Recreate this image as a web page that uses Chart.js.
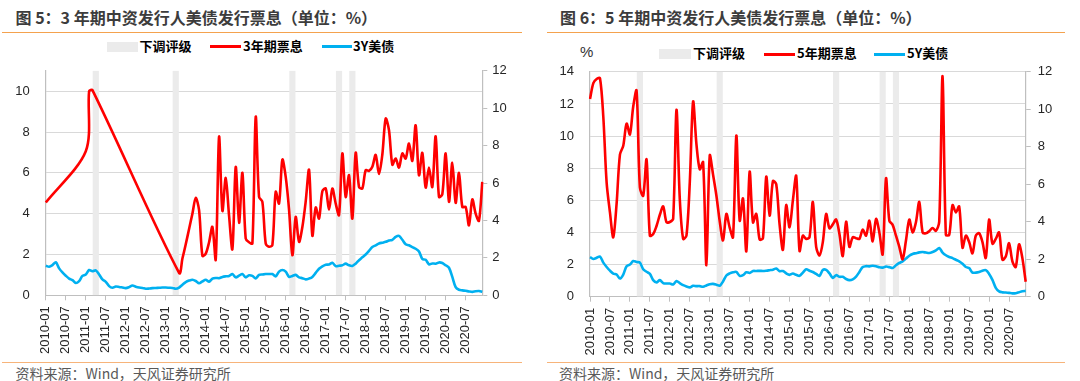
<!DOCTYPE html>
<html>
<head>
<meta charset="utf-8">
<script src="https://cdn.jsdelivr.net/npm/chart.js@4.4.0/dist/chart.umd.min.js"></script>
<style>
html,body{margin:0;padding:0;background:#fff;}
body{width:1080px;height:381px;position:relative;overflow:hidden;}
.title{position:absolute;top:6.6px;font:bold 16px "Noto Sans CJK SC",sans-serif;color:#3c3c3c;white-space:nowrap;line-height:20px;}
.rule{position:absolute;height:0;}
.src{position:absolute;top:364px;font:14px "Noto Sans CJK SC",sans-serif;color:#595959;white-space:nowrap;line-height:18px;}
.leg{position:absolute;font:bold 13px "Noto Sans CJK SC",sans-serif;color:#000;white-space:nowrap;line-height:16px;}
.sw{position:absolute;}
canvas{position:absolute;}
.unit{position:absolute;font:15px "Liberation Sans",Arial,sans-serif;color:#333;line-height:18px;}
</style>
</head>
<body>
<div class="title" style="left:15.5px">图 5：3 年期中资发行人美债发行票息（单位：%）</div>
<div class="title" style="left:560px">图 6：5 年期中资发行人美债发行票息（单位：%）</div>
<div class="rule" style="left:2px;width:520px;top:32px;border-top:1.5px solid #F4A24E"></div>
<div class="rule" style="left:547px;width:518px;top:32px;border-top:1.5px solid #F4A24E"></div>

<!-- legends -->
<div class="sw" style="left:107px;top:41.5px;width:31px;height:10px;background:#EBEBEB"></div>
<div class="leg" style="left:139.5px;top:37.7px">下调评级</div>
<div class="sw" style="left:210px;top:45px;width:31px;height:3px;background:#FF0000"></div>
<div class="leg" style="left:243px;top:37.7px">3年期票息</div>
<div class="sw" style="left:322px;top:45px;width:30px;height:3px;background:#00B0F0"></div>
<div class="leg" style="left:353px;top:37.7px">3Y美债</div>

<div class="unit" style="left:580px;top:42.5px">%</div>
<div class="sw" style="left:659px;top:49px;width:32px;height:10px;background:#EBEBEB"></div>
<div class="leg" style="left:693px;top:45.2px">下调评级</div>
<div class="sw" style="left:764px;top:52.5px;width:31px;height:3px;background:#FF0000"></div>
<div class="leg" style="left:797px;top:45.2px">5年期票息</div>
<div class="sw" style="left:874px;top:52.5px;width:31px;height:3px;background:#00B0F0"></div>
<div class="leg" style="left:907px;top:45.2px">5Y美债</div>

<canvas id="c1" width="530" height="313" style="left:0px;top:47px;width:530px;height:313px"></canvas>
<canvas id="c2" width="530" height="312" style="left:540px;top:48px;width:530px;height:312px"></canvas>

<div class="rule" style="left:2px;width:520px;top:361.5px;border-top:1.5px solid #F7B47A"></div>
<div class="rule" style="left:547px;width:518px;top:361.5px;border-top:1.5px solid #F7B47A"></div>
<div class="src" style="left:15.5px">资料来源：Wind，天风证券研究所</div>
<div class="src" style="left:559px">资料来源：Wind，天风证券研究所</div>

<script>
// ---- categories (monthly, 2010-01 .. 2020-12) ----
function monthLabels(startY, startM, count) {
  const out = [];
  let y = startY, m = startM;
  for (let i = 0; i < count; i++) {
    out.push(y + '-' + (m < 10 ? '0' + m : '' + m));
    m++; if (m > 12) { m = 1; y++; }
  }
  return out;
}
const months = monthLabels(2010, 1, 132);

// ---- downgrade months (grey bands) ----
const downgradeMonths = ['2011-04', '2013-04', '2016-03', '2017-05', '2017-09'];

// ---- Figure 5: 3-year coupon (%) ----
const coupon3Y = [
  4.55, null, null, null, null, null, null, null, null, null,
  null, null, 7.06, 10.0, 10.05, null, null, null, null, null,
  null, null, null, null, null, null, null, null, null, null,
  null, null, null, null, null, null, null, null, null, null,
  1.10, 1.8, 2.5, 3.25, 4.0, 4.77, 4.17, 1.93, 2.04, 2.6,
  3.35, 1.75, 7.77, 4.14, 5.75, 3.9, 2.26, 6.29, 3.55, 6.0,
  2.78, 2.6, 2.54, 8.74, 4.82, 4.58, 2.54, 2.38, 2.46, 5.07,
  4.50, 6.65, 5.8, 4.2, 1.96, 3.84, 2.62, 3.35, 4.6, 6.15,
  2.92, 4.3, 3.76, 5.1, 5.23, 4.2, 5.23, 4.5, 3.93, 6.95,
  4.82, 5.88, 3.76, 6.98, 5.31, 5.23, 6.13, 6.1, 6.3, 6.88,
  5.94, 6.9, 8.66, 8.09, 6.4, 6.7, 6.26, 6.95, 6.7, 7.44,
  6.59, 8.33, 5.88, 6.98, 5.28, 6.26, 5.31, 7.79, 4.82, 4.95,
  6.95, 4.58, 6.49, 4.53, 6.0, 4.33, 4.33, 3.43, 4.7, 4.0,
  3.65, 5.56
];
// ---- Figure 5: 3Y US Treasury (%) ----
const ust3Y = [
  1.45, 1.40, 1.48, 1.62, 1.32, 1.12, 0.96, 0.82, 0.74, 0.60,
  0.70, 0.95, 1.02, 1.24, 1.18, 1.22, 1.02, 0.78, 0.66, 0.45,
  0.37, 0.43, 0.41, 0.38, 0.35, 0.40, 0.48, 0.42, 0.38, 0.36,
  0.32, 0.33, 0.35, 0.36, 0.37, 0.38, 0.38, 0.37, 0.36, 0.32,
  0.38, 0.52, 0.65, 0.72, 0.76, 0.70, 0.59, 0.68, 0.76, 0.67,
  0.82, 0.85, 0.84, 0.90, 0.93, 0.95, 1.04, 0.88, 0.96, 1.04,
  0.88, 0.98, 0.95, 0.83, 1.00, 1.02, 1.04, 1.04, 1.04, 0.93,
  1.16, 1.24, 1.16, 0.90, 0.95, 1.00, 0.88, 0.84, 0.78, 0.82,
  0.90, 1.10, 1.30, 1.42, 1.50, 1.51, 1.59, 1.43, 1.45, 1.47,
  1.55, 1.47, 1.44, 1.55, 1.72, 1.86, 2.00, 2.18, 2.37, 2.45,
  2.54, 2.58, 2.62, 2.68, 2.72, 2.86, 2.91, 2.72, 2.50, 2.45,
  2.36, 2.28, 2.15, 1.78, 1.74, 1.52, 1.56, 1.55, 1.61, 1.58,
  1.47, 1.35, 0.90, 0.40, 0.27, 0.24, 0.22, 0.19, 0.17, 0.20,
  0.21, 0.17
];

// ---- Figure 6: 5-year coupon (%) ----
const coupon5Y = [
  12.3, 13.3, 13.55, 13.6, 11.2, 7.1, 5.25, 3.7, 5.8, 8.85,
  9.4, 10.77, 10.1, 11.84, 12.83, 6.8, 6.28, 8.54, 3.8, 3.9,
  4.4, 5.1, 5.62, 4.63, 4.65, 4.84, 11.63, 6.07, 3.6, 3.8,
  7.1, 12.15, 9.5, 7.93, 8.38, 1.96, 8.79, 7.6, 6.3, 4.7,
  3.5, 5.15, 4.3, 3.7, 10.03, 4.74, 6.11, 2.82, 7.78, 4.63,
  5.15, 3.56, 3.64, 7.47, 5.04, 7.2, 7.0, 4.5, 2.92, 5.7,
  4.32, 6.0, 7.52, 2.85, 3.8, 3.6, 3.7, 5.9, 3.1, 2.57,
  3.4, 5.15, 4.26, 4.5, 4.8, 3.9, 2.53, 4.67, 3.1, 3.7,
  3.64, 3.6, 4.18, 3.8, 4.73, 3.44, 4.84, 4.0, 2.64, 7.37,
  4.73, 4.47, 3.8, 3.1, 2.33, 3.5, 4.8, 4.0, 4.63, 5.9,
  4.0, 3.95, 4.08, 4.28, 4.1, 4.67, 13.73, 3.85, 3.85, 5.7,
  5.25, 5.62, 3.05, 3.8, 3.4, 2.7, 3.8, 3.95, 3.4, 2.41,
  4.8, 3.3, 3.6, 4.0, 2.3, 2.5, 3.33, 2.2, 1.85, 3.26,
  2.4, 0.93
];
// ---- Figure 6: 5Y US Treasury (%) ----
const ust5Y = [
  2.47, 2.35, 2.42, 2.50, 2.12, 1.85, 1.62, 1.44, 1.38, 1.13,
  1.38, 1.90, 2.00, 2.22, 2.16, 2.12, 1.71, 1.55, 1.42, 1.03,
  0.89, 1.03, 0.85, 0.82, 0.82, 0.76, 0.97, 0.84, 0.72, 0.64,
  0.58, 0.68, 0.66, 0.66, 0.62, 0.70, 0.78, 0.80, 0.75, 0.68,
  0.95, 1.32, 1.45, 1.52, 1.54, 1.30, 1.34, 1.52, 1.48, 1.60,
  1.60, 1.61, 1.60, 1.62, 1.65, 1.68, 1.75, 1.59, 1.60, 1.45,
  1.36, 1.44, 1.36, 1.30, 1.50, 1.71, 1.62, 1.54, 1.42, 1.30,
  1.66, 1.67, 1.45, 1.17, 1.34, 1.24, 1.24, 1.10, 1.03, 1.08,
  1.25, 1.54, 1.85, 1.90, 1.89, 1.93, 1.90, 1.83, 1.81, 1.88,
  1.84, 1.79, 1.96, 2.10, 2.20, 2.37, 2.55, 2.66, 2.71, 2.76,
  2.78, 2.75, 2.72, 2.78, 2.88, 3.03, 2.75, 2.58, 2.47, 2.40,
  2.30, 2.20, 2.05, 1.85, 1.78, 1.50, 1.50, 1.54, 1.62, 1.65,
  1.42, 1.05, 0.55, 0.33, 0.27, 0.26, 0.24, 0.21, 0.22, 0.28,
  0.34, 0.36
];

// ---- axis tick ranges ----
const leftAxisMax3Y = 11, leftAxisMax5Y = 14, rightAxisMax = 12, tickStep = 2;

function bandData(labels) {
  return labels.map(l => downgradeMonths.indexOf(l) >= 0 ? rightAxisMax : null);
}

const AXIS_COLOR = '#BFBFBF';
const GRID_COLOR = '#D9D9D9';
const TICK_FONT = { family: '"Liberation Sans", Arial, sans-serif', size: 13 };

function makeChart(id, cfg) {
  return new Chart(document.getElementById(id), {
    type: 'line',
    data: {
      labels: cfg.labels,
      datasets: [
        { type: 'line', label: cfg.redLabel, data: cfg.red, borderColor: '#FF0000', backgroundColor: '#FF0000',
          borderWidth: 2.6, pointRadius: 0, tension: 0.3, spanGaps: true, yAxisID: 'y', order: 1 },
        { type: 'line', label: cfg.blueLabel, data: cfg.blue, borderColor: '#00B0F0', backgroundColor: '#00B0F0',
          borderWidth: 2.6, pointRadius: 0, tension: 0.3, spanGaps: true, yAxisID: 'y', order: 2 },
        { type: 'bar', label: '下调评级', data: bandData(cfg.labels), backgroundColor: '#EBEBEB',
          barThickness: 5.5, yAxisID: 'y1', order: 3 }
      ]
    },
    options: {
      responsive: false, animation: false, events: [],
      layout: { padding: { top: cfg.padTop, left: 0, right: 0, bottom: 0 } },
      plugins: { legend: { display: false }, tooltip: { enabled: false } },
      scales: {
        x: {
          offset: false,
          grid: { offset: false, drawOnChartArea: false, drawTicks: true, tickLength: 5,
                  color: (c) => (c.index % 6 === 0 ? AXIS_COLOR : 'rgba(0,0,0,0)') },
          border: { display: true, color: AXIS_COLOR, width: 1 },
          ticks: { autoSkip: false, maxRotation: 90, minRotation: 90, padding: 6, color: '#262626', font: TICK_FONT,
                   callback: (v, i) => (i % 6 === 0 ? cfg.labels[i] : '') },
          afterFit: (s) => { s.height = cfg.xHeight; }
        },
        y: {
          position: 'left', min: 0, max: cfg.yMax,
          ticks: { stepSize: tickStep, padding: 16, color: '#262626', font: TICK_FONT },
          grid: { color: GRID_COLOR, drawTicks: false, lineWidth: 1 },
          border: { display: true, color: AXIS_COLOR, width: 1.2 },
          afterBuildTicks: (s) => { s.ticks = s.ticks.filter(t => t.value % tickStep === 0); },
          afterFit: (s) => { s.width = cfg.yWidth; }
        },
        y1: {
          position: 'right', min: 0, max: rightAxisMax,
          ticks: { stepSize: tickStep, padding: cfg.y1Pad, color: '#262626', font: TICK_FONT },
          grid: { drawOnChartArea: false, drawTicks: true, tickLength: 5, color: AXIS_COLOR },
          border: { display: true, color: AXIS_COLOR, width: 1.2 },
          afterFit: (s) => { s.width = cfg.y1Width; }
        }
      }
    }
  });
}

makeChart('c1', {
  labels: months, red: coupon3Y, blue: ust3Y, redLabel: '3年期票息', blueLabel: '3Y美债',
  yMax: leftAxisMax3Y, padTop: 11, yWidth: 45.8, y1Width: 47.7, xHeight: 64.7, y1Pad: 5
});
makeChart('c2', {
  labels: months, red: coupon5Y, blue: ust5Y, redLabel: '5年期票息', blueLabel: '5Y美债',
  yMax: leftAxisMax5Y, padTop: 10, yWidth: 50, y1Width: 44.3, xHeight: 63.3, y1Pad: 7
});
</script>
</body>
</html>
